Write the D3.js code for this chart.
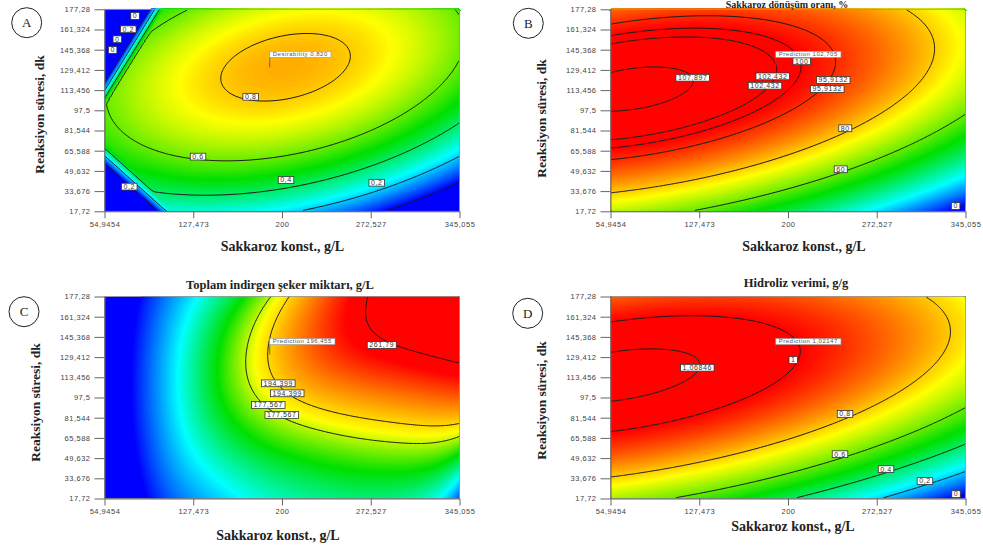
<!DOCTYPE html>
<html>
<head>
<meta charset="utf-8">
<script src="https://cdn.jsdelivr.net/npm/d3@7"></script>
<style>
body { margin: 0; background: #fff; }
svg { display: block; }
</style>
</head>
<body>
<svg id="chart" width="983" height="550"></svg>
<script>
// axes (same for all four plots)
const xDomain = [54.9454, 345.055]
const yDomain = [17.72, 177.28]
const xTicks = [54.9454, 127.473, 200, 272.527, 345.055]
const xTickLabels = ["54,9454", "127,473", "200", "272,527", "345,055"]
const yTicks = [17.72, 33.676, 49.632, 65.588, 81.544, 97.5, 113.456, 129.412, 145.368, 161.324, 177.28]
const yTickLabels = ["17,72", "33,676", "49,632", "65,588", "81,544", "97,5", "113,456", "129,412", "145,368", "161,324", "177,28"]

const panelLetters = ["A", "B", "C", "D"]
const panelTitles = ["", "Sakkaroz dönüşüm oranı, %", "Toplam indirgen şeker miktarı, g/L", "Hidroliz verimi, g/g"]
const xAxisTitle = "Sakkaroz konst., g/L"
const yAxisTitle = "Reaksiyon süresi, dk"

// optimum point flagged on every plot
const optimum = [190, 131.4]

// fitted surfaces, coded units u,v in [-1,1]
// ridge value F(u) and ridge line V(u) are quadratics in u;
// spread above / below the ridge and its softening are read at evenly spaced u knots
const ridgeA = [0.8299, 0.009, -0.225], lineA = [0.42, 0.30, 0]
const upA = [0.3, 0.3], downA = [0.3, 0.3], softA = [0, 0]
const cliffsA = [[54.9454, 119, 92.2, 177.28, 8], [54.9454, 55.7, 98.7, 17.72, 5]]
const levelsA = [0, 0.2, 0.4, 0.6, 0.8]
const stopsA = [0, 0.25, 0.5, 0.75, 1]
const labelsA = [[79.9, 172, "0"], [74.4, 161.5, "0,2"], [65.4, 153.6, "0"], [61.6, 145.1, "0"],
  [174.4, 108.2, "0,8"], [131.4, 60.9, "0,6"], [203.3, 42.4, "0,4"], [277.4, 40.3, "0,2"], [75.2, 37.2, "0,2"]]
const flagA = "Desirability 0,820"

const ridgeB = [101.356, -17.6, -10], lineB = [0.4164, 0.2345, 0]
const upB = [29, 29], downB = [29, 29], softB = [0, 0]
const levelsB = [0, 60, 80, 95.9132, 100, 102.432, 107.897]
const stopsB = [0, 25, 50, 75, 100]
const labelsB = [[122.1, 123.2, "107,897"], [187.5, 124.3, "102,432"], [181.2, 116.9, "102,432"], [211.2, 136.2, "100"],
  [237.0, 121.4, "95,9132"], [232.1, 114.3, "95,9132"], [246.8, 83.3, "80"], [243.1, 50.9, "60"], [337.0, 21.9, "0"]]
const flagB = "Prediction 102,705"

const ridgeC = [205, 130, -20], lineC = [0.47, 0.656, 0.274]
const upC = [5, 14, 55, 70, 60, 55]
const downC = [10, 10, 60, 100, 92, 50]
const softC = [0, 0, 0.6, 0.65, 0.38, 0.05]
const levelsC = [177.567, 194.399, 261.79]
const stopsC = [80, 122, 155, 185, 250]
const labelsC = [[281.5, 139.0, "261,79"], [197.0, 108.7, "194,399"], [204.3, 100.8, "194,399"],
  [188.8, 91.6, "177,567"], [199.8, 83.7, "177,567"]]
const flagC = "Prediction 196,455"

const ridgeD = [1.0112, -0.156, -0.0817], lineD = [0.439, 0.2345, 0]
const upD = [0.29, 0.29], downD = [0.29, 0.29], softD = [0, 0]
const levelsD = [0, 0.2, 0.4, 0.6, 0.8, 1, 1.06846]
const stopsD = [0, 0.25, 0.5, 0.75, 1]
const labelsD = [[125.9, 121.0, "1,06846"], [204.3, 127.1, "1"], [246.6, 84.5, "0,8"], [242.5, 52.7, "0,6"],
  [280.1, 40.9, "0,4"], [311.9, 31.5, "0,2"], [337.3, 21.2, "0"]]
const flagD = "Prediction 1,02147"

const panels = [
  {ridge: ridgeA, line: lineA, up: upA, down: downA, soft: softA, cliffs: cliffsA, levels: levelsA, stops: stopsA, labels: labelsA, flag: flagA},
  {ridge: ridgeB, line: lineB, up: upB, down: downB, soft: softB, cliffs: [], levels: levelsB, stops: stopsB, labels: labelsB, flag: flagB},
  {ridge: ridgeC, line: lineC, up: upC, down: downC, soft: softC, cliffs: [], levels: levelsC, stops: stopsC, labels: labelsC, flag: flagC},
  {ridge: ridgeD, line: lineD, up: upD, down: downD, soft: softD, cliffs: [], levels: levelsD, stops: stopsD, labels: labelsD, flag: flagD}
]

// layout
const W = 355, H = 202
const origins = [[104.5, 9.3], [610.5, 9.3], [104.5, 296.5], [610.5, 296.5]]
const letterPos = [[26.7, 22.7], [528.3, 23.3], [24, 311.7], [527.7, 313.3]]
const yTitlePos = [[39, 114.5], [541.7, 118.5], [35, 402.5], [541.7, 400.5]]
const xTitlePos = [[282.5, 251], [804, 251], [278, 540], [793, 531]]
const titlePos = [null, [787, 8.3], [280, 289], [796, 287]]
const titleSize = [12.5, 10, 12.5, 12.5]
const colorRange = ["#0000ff", "#00ffff", "#00e000", "#ffff00", "#ff0000"]
const nx = 178, ny = 101, bandCount = 220

const svg = d3.select("#chart")
const serif = "'Liberation Serif', 'Times New Roman', serif"
const sans = "'Liberation Sans', Arial, sans-serif"

function toCoded(x, y) {
    return [(x - 200) / 145.0548, (y - 97.5) / 79.78]
}

function makeSurface(p) {
    let t = d3.scaleLinear().domain([-1, 1]).range([0, 1]).clamp(true)
    let kUp = d3.interpolateBasis(p.up)
    let kDown = d3.interpolateBasis(p.down)
    let soft = d3.interpolateBasis(p.soft)
    let cliffs = p.cliffs.map(c => {
        let [a1, b1] = toCoded(c[0], c[1])
        let [a2, b2] = toCoded(c[2], c[3])
        let n0 = b2 - b1, n1 = -(a2 - a1)
        let len = Math.hypot(n0, n1)
        n0 /= len; n1 /= len
        let sign = ((-a1) * n0 + (-b1) * n1 < 0) ? -1 : 1
        return {a1, b1, n0, n1, sign, gain: c[4]}
    })
    return (x, y) => {
        let [u, v] = toCoded(x, y)
        let F = p.ridge[0] + p.ridge[1] * u + p.ridge[2] * u * u
        let V = p.line[0] + p.line[1] * u + p.line[2] * u * u
        let dv = v - V
        let f
        if (dv >= 0) {
            f = F - kUp(t(u)) * dv * dv
        } else {
            f = F - kDown(t(u)) * dv * dv / (1 + Math.max(0, soft(t(u))) * dv * dv)
        }
        cliffs.forEach(c => {
            let d = c.sign * ((u - c.a1) * c.n0 + (v - c.b1) * c.n1)
            f = Math.min(f, c.gain * d)
        })
        return f
    }
}

// split a contour ring into polylines, dropping the parts running along the plot border
function ringLines(ring) {
    const same = (a, b) => (a[0] === 0 && b[0] === 0) || (a[0] === nx && b[0] === nx) ||
        (a[1] === 0 && b[1] === 0) || (a[1] === ny && b[1] === ny)
    let lines = [], cur = null
    for (let k = 0; k < ring.length - 1; k++) {
        let a = ring[k], b = ring[k + 1]
        if (same(a, b)) {
            if (cur) { lines.push(cur); cur = null }
            continue
        }
        if (!cur) cur = [a]
        cur.push(b)
    }
    if (cur) lines.push(cur)
    if (lines.length > 1 && lines[0][0] === ring[0] && lines[lines.length - 1].slice(-1)[0] === ring[ring.length - 1]) {
        let last = lines.pop()
        lines[0] = last.concat(lines[0].slice(1))
    }
    return lines
}

function boxLabel(g, cx, cy, txt) {
    let lg = g.append("g")
    let t = lg.append("text")
        .attr("x", cx).attr("y", cy + 2.4)
        .attr("text-anchor", "middle")
        .attr("font-family", sans).attr("font-size", 7)
        .attr("letter-spacing", 0.6)
        .attr("fill", "#333")
        .text(txt)
    let bb = t.node().getBBox()
    lg.insert("rect", "text")
        .attr("x", bb.x - 2).attr("y", cy - 3.4)
        .attr("width", bb.width + 4).attr("height", 6.8)
        .attr("fill", "#fff").attr("stroke", "#333").attr("stroke-width", 0.8)
}

panels.forEach((p, pi) => {
    let [ox, oy] = origins[pi]
    let x = d3.scaleLinear().domain(xDomain).range([ox, ox + W])
    let y = d3.scaleLinear().domain(yDomain).range([oy + H, oy])
    let color = d3.scaleLinear().domain(p.stops).range(colorRange).clamp(true)
    let surface = makeSurface(p)

    let values = new Float64Array(nx * ny)
    for (let j = 0; j < ny; j++) {
        for (let i = 0; i < nx; i++) {
            values[j * nx + i] = surface(x.invert(ox + (i + 0.5) * W / nx), y.invert(oy + (j + 0.5) * H / ny))
        }
    }

    let g = svg.append("g")
    let toPx = d3.geoTransform({point(gx, gy) { this.stream.point(ox + gx * W / nx, oy + gy * H / ny) }})
    let path = d3.geoPath(toPx)

    // colour field
    let lo = p.stops[0], hi = p.stops[p.stops.length - 1], step = (hi - lo) / bandCount
    g.append("rect").attr("x", ox).attr("y", oy).attr("width", W).attr("height", H).attr("fill", color(lo))
    let bands = d3.contours().size([nx, ny]).thresholds(d3.range(1, bandCount).map(k => lo + k * step))(values)
    g.append("g").selectAll("path")
        .data(bands)
        .join("path")
        .attr("d", path)
        .attr("fill", d => color(d.value + step / 2))
        .attr("stroke", d => color(d.value + step / 2))
        .attr("stroke-width", 0.4)

    // contour lines
    let line = d3.line().x(d => ox + d[0] * W / nx).y(d => oy + d[1] * H / ny)
    let iso = d3.contours().size([nx, ny]).thresholds(p.levels)(values)
    let segs = []
    iso.forEach(c => c.coordinates.forEach(poly => poly.forEach(ring => segs.push(...ringLines(ring)))))
    g.append("g").selectAll("path")
        .data(segs)
        .join("path")
        .attr("d", line)
        .attr("fill", "none")
        .attr("stroke", "#1a1a1a")
        .attr("stroke-width", 1)

    g.append("rect").attr("x", ox).attr("y", oy).attr("width", W).attr("height", H)
        .attr("fill", "none").attr("stroke", "#999").attr("stroke-width", 0.8)

    // contour labels
    p.labels.forEach(l => boxLabel(g, x(l[0]), y(l[1]), l[2]))

    // prediction flag
    let fx = x(optimum[0]), fy = y(optimum[1])
    g.append("line").attr("x1", fx).attr("x2", fx).attr("y1", fy).attr("y2", fy - 10)
        .attr("stroke", "#555").attr("stroke-width", 0.8)
    let fg = g.append("g")
    let ft = fg.append("text").attr("x", fx + 3).attr("y", fy - 11.4)
        .attr("font-family", sans).attr("font-size", 6).attr("letter-spacing", 0.5)
        .attr("fill", "#555").text(p.flag)
    let fb = ft.node().getBBox()
    fg.insert("rect", "text").attr("x", fx).attr("y", fy - 16).attr("width", fb.width + 6).attr("height", 6)
        .attr("fill", "#fff").attr("stroke", "#999").attr("stroke-width", 0.6)

    // axes
    let ya = g.append("g").attr("transform", `translate(${ox},0)`)
        .call(d3.axisLeft(y).tickValues(yTicks).tickFormat((d, i) => yTickLabels[i]).tickSize(10).tickPadding(4).tickSizeOuter(0))
    let xa = g.append("g").attr("transform", `translate(0,${oy + H})`)
        .call(d3.axisBottom(x).tickValues(xTicks).tickFormat((d, i) => xTickLabels[i]).tickSize(7).tickPadding(3).tickSizeOuter(0))
    ;[ya, xa].forEach(a => {
        a.selectAll("path, line").attr("stroke", "#666")
        a.selectAll("text").attr("font-family", sans).attr("font-size", 7.5)
            .attr("letter-spacing", 0.5).attr("fill", "#444")
    })

    // titles
    svg.append("text")
        .attr("transform", `translate(${yTitlePos[pi][0]},${yTitlePos[pi][1]}) rotate(-90)`)
        .attr("text-anchor", "middle").attr("dominant-baseline", "central")
        .attr("font-family", serif).attr("font-weight", "bold").attr("font-size", 13.5)
        .attr("fill", "#222").text(yAxisTitle)
    svg.append("text")
        .attr("x", xTitlePos[pi][0]).attr("y", xTitlePos[pi][1])
        .attr("text-anchor", "middle")
        .attr("font-family", serif).attr("font-weight", "bold").attr("font-size", 14)
        .attr("fill", "#222").text(xAxisTitle)
    if (titlePos[pi]) {
        svg.append("text")
            .attr("x", titlePos[pi][0]).attr("y", titlePos[pi][1])
            .attr("text-anchor", "middle")
            .attr("font-family", serif).attr("font-weight", "bold").attr("font-size", titleSize[pi])
            .attr("fill", "#222").text(panelTitles[pi])
    }
    svg.append("circle").attr("cx", letterPos[pi][0]).attr("cy", letterPos[pi][1]).attr("r", 15)
        .attr("fill", "none").attr("stroke", "#222").attr("stroke-width", 1)
    svg.append("text").attr("x", letterPos[pi][0]).attr("y", letterPos[pi][1] + 4.5)
        .attr("text-anchor", "middle").attr("font-family", serif).attr("font-size", 13)
        .attr("fill", "#222").text(panelLetters[pi])
})
</script>
</body>
</html>
